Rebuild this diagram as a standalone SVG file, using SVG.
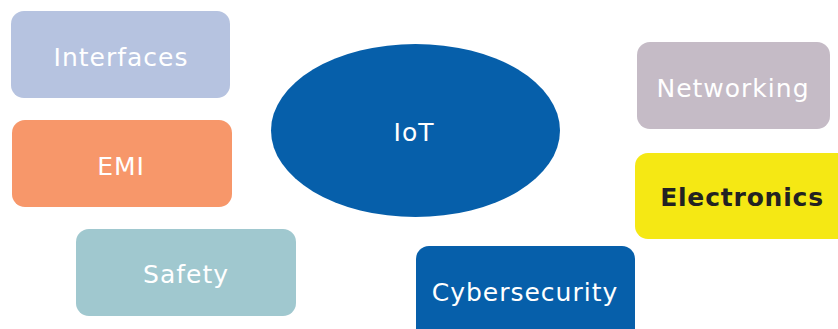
<svg xmlns="http://www.w3.org/2000/svg" width="838" height="329" viewBox="0 0 838 329">
<style>
text{font-family:"DejaVu Sans","Liberation Sans",sans-serif;font-size:25px;fill:#ffffff;text-anchor:middle;letter-spacing:1px}
.b{font-weight:bold;fill:#222222;letter-spacing:0.8px}
</style>
<rect width="838" height="329" fill="#ffffff"/>
<g id="connectors"></g>
<g id="interfaces"><rect x="11" y="11" width="219" height="87" rx="13" fill="#b6c3e0"/><text x="121" y="66">Interfaces</text></g>
<g id="emi"><rect x="12" y="120" width="220" height="87" rx="13" fill="#f7976a"/><text x="121" y="175">EMI</text></g>
<g id="safety"><rect x="76" y="229" width="220" height="87" rx="13" fill="#a0c8cf"/><text x="186" y="283">Safety</text></g>
<g id="iot"><ellipse cx="415.5" cy="130.5" rx="144.5" ry="86.5" fill="#065faa"/><text x="414" y="141">IoT</text></g>
<g id="networking"><rect x="637" y="42" width="193" height="87" rx="13" fill="#c5bbc6"/><text x="733" y="97">Networking</text></g>
<g id="electronics"><rect x="635" y="153" width="220" height="86" rx="13" fill="#f5e814"/><text class="b" x="742" y="206">Electronics</text></g>
<g id="cybersecurity"><rect x="416" y="246" width="219" height="100" rx="13" fill="#065faa"/><text x="525" y="301">Cybersecurity</text></g>
</svg>
